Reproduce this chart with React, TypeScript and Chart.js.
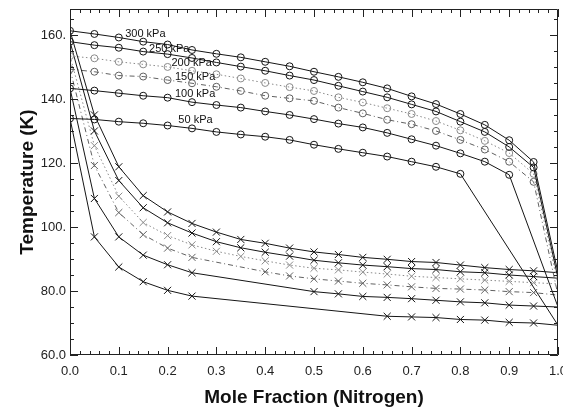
import React, { useEffect, useRef } from "react";
import { Chart, registerables } from "chart.js";

Chart.register(...registerables);

// Mole fraction of nitrogen at which points were computed
const moleFractions = [0, 0.05, 0.1, 0.15, 0.2, 0.25, 0.3, 0.35, 0.4, 0.45, 0.5, 0.55, 0.6, 0.65, 0.7, 0.75, 0.8, 0.85, 0.9, 0.95, 1.0];

// Dew-point curves (circles), temperature in K
const dew300 = [161.3, 160.3, 159.2, 157.9, 157.0, 155.3, 154.1, 153.0, 151.6, 150.2, 148.5, 146.9, 145.2, 143.3, 140.8, 138.4, 135.3, 131.9, 127.1, 120.3, 85.7];
const dew250 = [157.9, 156.8, 156.0, 154.8, 154.0, 152.8, 151.4, 150.1, 148.8, 147.3, 145.9, 144.1, 142.3, 140.5, 138.3, 136.1, 132.9, 129.7, 125.0, 118.6, 84.0];
const dew200 = [153.4, 152.7, 151.6, 150.8, 150.0, 148.8, 147.7, 146.4, 145.0, 143.7, 142.5, 140.5, 138.9, 137.1, 135.3, 133.1, 130.2, 126.9, 123.1, 116.6, 82.2];
const dew150 = [149.3, 148.5, 147.3, 147.0, 145.9, 144.9, 143.8, 142.5, 141.0, 140.2, 139.4, 137.3, 135.5, 133.5, 132.1, 130.0, 127.2, 124.2, 120.4, 114.1, 78.7];
const dew100 = [143.3, 142.6, 141.8, 141.0, 140.4, 139.0, 138.1, 137.3, 136.1, 135.0, 133.7, 132.3, 131.1, 129.4, 127.4, 125.4, 123.0, 120.4, 116.3, null, 75.0];
const dew50 = [133.9, 133.6, 132.9, 132.4, 131.7, 130.8, 129.7, 128.9, 128.2, 127.2, 125.7, 124.4, 123.2, 122.0, 120.4, 118.8, 116.6, null, null, null, 69.3];

// Bubble-point curves (crosses), temperature in K
const bub300 = [161.3, 135.0, 118.8, 109.8, 104.7, 101.1, 98.4, 96.1, 94.9, 93.4, 92.2, 91.4, 90.5, 89.9, 89.2, 88.9, 88.1, 87.3, 86.7, 86.3, 85.7];
const bub250 = [157.9, 130.0, 114.5, 106.0, 101.3, 98.1, 95.4, 93.5, 92.1, 90.9, 89.6, 88.8, 88.1, 87.6, 87.0, 86.7, 86.0, 85.7, 85.0, 84.5, 84.0];
const bub200 = [153.4, 125.4, 109.6, 101.4, 97.3, 94.4, 92.4, 90.8, 89.4, 88.1, 87.1, 86.6, 85.9, 85.3, 84.6, 84.2, 83.8, 83.4, 83.0, 82.6, 82.2];
const bub150 = [149.3, 119.2, 104.5, 97.6, 93.4, 90.5, null, null, 86.0, 84.7, 83.8, 83.1, 82.4, 81.9, 81.3, 80.8, 80.6, 80.3, 79.8, 79.5, 78.7];
const bub100 = [143.3, 108.9, 96.9, 91.2, 88.2, 85.7, null, null, null, null, 79.8, 79.1, 78.3, 78.0, 77.6, 77.1, 76.6, 76.3, 75.6, 75.3, 75.0];
const bub50 = [133.9, 96.9, 87.5, 82.9, 80.2, 78.4, null, null, null, null, null, null, null, 72.1, 71.9, 71.7, 71.1, 70.9, 70.2, 70.0, 69.3];

const pressures = ["300 kPa", "250 kPa", "200 kPa", "150 kPa", "100 kPa", "50 kPa"];

// Axis ticks
const xTickValues = [0, 0.1, 0.2, 0.3, 0.4, 0.5, 0.6, 0.7, 0.8, 0.9, 1.0];
const xTickLabels = ["0.0", "0.1", "0.2", "0.3", "0.4", "0.5", "0.6", "0.7", "0.8", "0.9", "1.0"];
const yTickValues = [60, 80, 100, 120, 140, 160];
const yTickLabels = ["60.0", "80.0", "100.", "120.", "140.", "160."];

// Curve labels anchored in data coordinates
const labelX = [0.113, 0.162, 0.208, 0.215, 0.215, 0.222];
const labelY = [160.3, 155.5, 151.2, 146.8, 141.6, 133.4];

const toPoints = (vals: (number | null)[]) =>
  vals
    .map((v, i) => (v === null ? null : { x: moleFractions[i], y: v }))
    .filter((p) => p !== null) as { x: number; y: number }[];

const styleFor = (p: string) => {
  if (p === "200 kPa") return { color: "#8a8a8a", dash: [1.5, 2.5] };
  if (p === "150 kPa") return { color: "#606060", dash: [5, 3, 1, 3] };
  return { color: "#151515", dash: [] as number[] };
};

const frameTicksPlugin = {
  id: "frameTicks",
  afterDatasetsDraw(chart: any) {
    const { ctx, chartArea } = chart;
    const { left, right, top, bottom } = chartArea;
    const xs = chart.scales.x;
    const ys = chart.scales.y;
    ctx.save();
    ctx.strokeStyle = "#222";
    ctx.lineWidth = 1;
    ctx.beginPath();
    ctx.rect(Math.round(left) + 0.5, Math.round(top) + 0.5, Math.round(right - left) - 1, Math.round(bottom - top) - 1);
    ctx.stroke();
    ctx.beginPath();
    for (let i = 0; i <= 50; i++) {
      const v = i / 50;
      const px = Math.round(xs.getPixelForValue(v)) + 0.5;
      const len = i % 5 === 0 ? 8 : 4;
      ctx.moveTo(px, bottom);
      ctx.lineTo(px, bottom - len);
      ctx.moveTo(px, top);
      ctx.lineTo(px, top + len);
    }
    for (let v = 60; v <= ys.max; v += 5) {
      const py = Math.round(ys.getPixelForValue(v)) + 0.5;
      const len = v % 20 === 0 ? 8 : 4;
      ctx.moveTo(left, py);
      ctx.lineTo(left + len, py);
      ctx.moveTo(right, py);
      ctx.lineTo(right - len, py);
    }
    ctx.stroke();
    ctx.restore();
  },
};

const curveLabelPlugin = {
  id: "curveLabels",
  afterDatasetsDraw(chart: any) {
    const { ctx } = chart;
    const xs = chart.scales.x;
    const ys = chart.scales.y;
    ctx.save();
    ctx.font = "11px 'Liberation Sans', Arial, sans-serif";
    ctx.fillStyle = "#111";
    ctx.textAlign = "left";
    ctx.textBaseline = "middle";
    pressures.forEach((p, i) => {
      ctx.fillText(p, xs.getPixelForValue(labelX[i]), ys.getPixelForValue(labelY[i]));
    });
    ctx.restore();
  },
};

export default function App() {
  const canvasRef = useRef<HTMLCanvasElement | null>(null);

  useEffect(() => {
    if (!canvasRef.current) return;
    const dewSeries = [dew300, dew250, dew200, dew150, dew100, dew50];
    const bubSeries = [bub300, bub250, bub200, bub150, bub100, bub50];
    const datasets: any[] = [];
    pressures.forEach((p, i) => {
      const s = styleFor(p);
      const pts = toPoints(dewSeries[i]);
      datasets.push({
        label: p + " dew",
        data: pts,
        borderColor: s.color,
        borderWidth: 1,
        borderDash: s.dash,
        pointStyle: "circle",
        pointRadius: (c: any) => (c.dataIndex === pts.length - 1 ? 0 : 3.5),
        pointBorderColor: s.color,
        pointBackgroundColor: "rgba(0,0,0,0)",
        pointBorderWidth: 1,
        tension: 0,
      });
    });
    pressures.forEach((p, i) => {
      const s = styleFor(p);
      const pts = toPoints(bubSeries[i]);
      datasets.push({
        label: p + " bubble",
        data: pts,
        borderColor: s.color,
        borderWidth: 1,
        borderDash: s.dash,
        pointStyle: "crossRot",
        pointRadius: (c: any) => (c.dataIndex === pts.length - 1 || c.dataIndex === 0 ? 0 : 5),
        pointBorderColor: s.color,
        pointBorderWidth: 1,
        tension: 0,
      });
    });

    const chart = new Chart(canvasRef.current, {
      type: "line",
      data: { datasets },
      plugins: [frameTicksPlugin, curveLabelPlugin],
      options: {
        animation: false,
        responsive: false,
        layout: { padding: { top: 9, right: 5, left: 0, bottom: 0 } },
        plugins: { legend: { display: false }, tooltip: { enabled: false } },
        scales: {
          x: {
            type: "linear",
            min: 0,
            max: 1,
            grid: { display: false, drawTicks: false },
            border: { display: false },
            afterBuildTicks: (scale: any) => {
              scale.ticks = xTickValues.map((v) => ({ value: v }));
            },
            afterFit: (scale: any) => {
              scale.height = 59;
              scale.paddingLeft = 0;
              scale.paddingRight = 0;
            },
            ticks: {
              padding: 9,
              autoSkip: false,
              maxRotation: 0,
              color: "#222",
              font: { family: "'Liberation Sans', Arial, sans-serif", size: 13 },
              callback: (_v: any, i: number) => xTickLabels[i],
            },
            title: {
              display: true,
              text: "Mole Fraction (Nitrogen)",
              color: "#111",
              font: { family: "'Liberation Sans', Arial, sans-serif", size: 19, weight: "bold" },
              padding: { top: 0, bottom: 5 },
            },
          },
          y: {
            type: "linear",
            min: 60,
            max: 168.1,
            grid: { display: false, drawTicks: false },
            border: { display: false },
            afterBuildTicks: (scale: any) => {
              scale.ticks = yTickValues.map((v) => ({ value: v }));
            },
            afterFit: (scale: any) => {
              scale.width = 70;
              scale.paddingTop = 0;
              scale.paddingBottom = 0;
            },
            ticks: {
              padding: 4,
              autoSkip: false,
              color: "#222",
              font: { family: "'Liberation Sans', Arial, sans-serif", size: 13 },
              callback: (_v: any, i: number) => yTickLabels[i],
            },
            title: {
              display: true,
              text: "Temperature (K)",
              color: "#111",
              font: { family: "'Liberation Sans', Arial, sans-serif", size: 19, weight: "bold" },
              padding: { top: 16, bottom: 0 },
            },
          },
        },
      },
    });
    return () => chart.destroy();
  }, []);

  return (
    <div style={{ position: "fixed", left: 0, top: 0, width: 563, height: 414, background: "#fff" }}>
      <canvas ref={canvasRef} width={563} height={414} style={{ display: "block" }} />
    </div>
  );
}
